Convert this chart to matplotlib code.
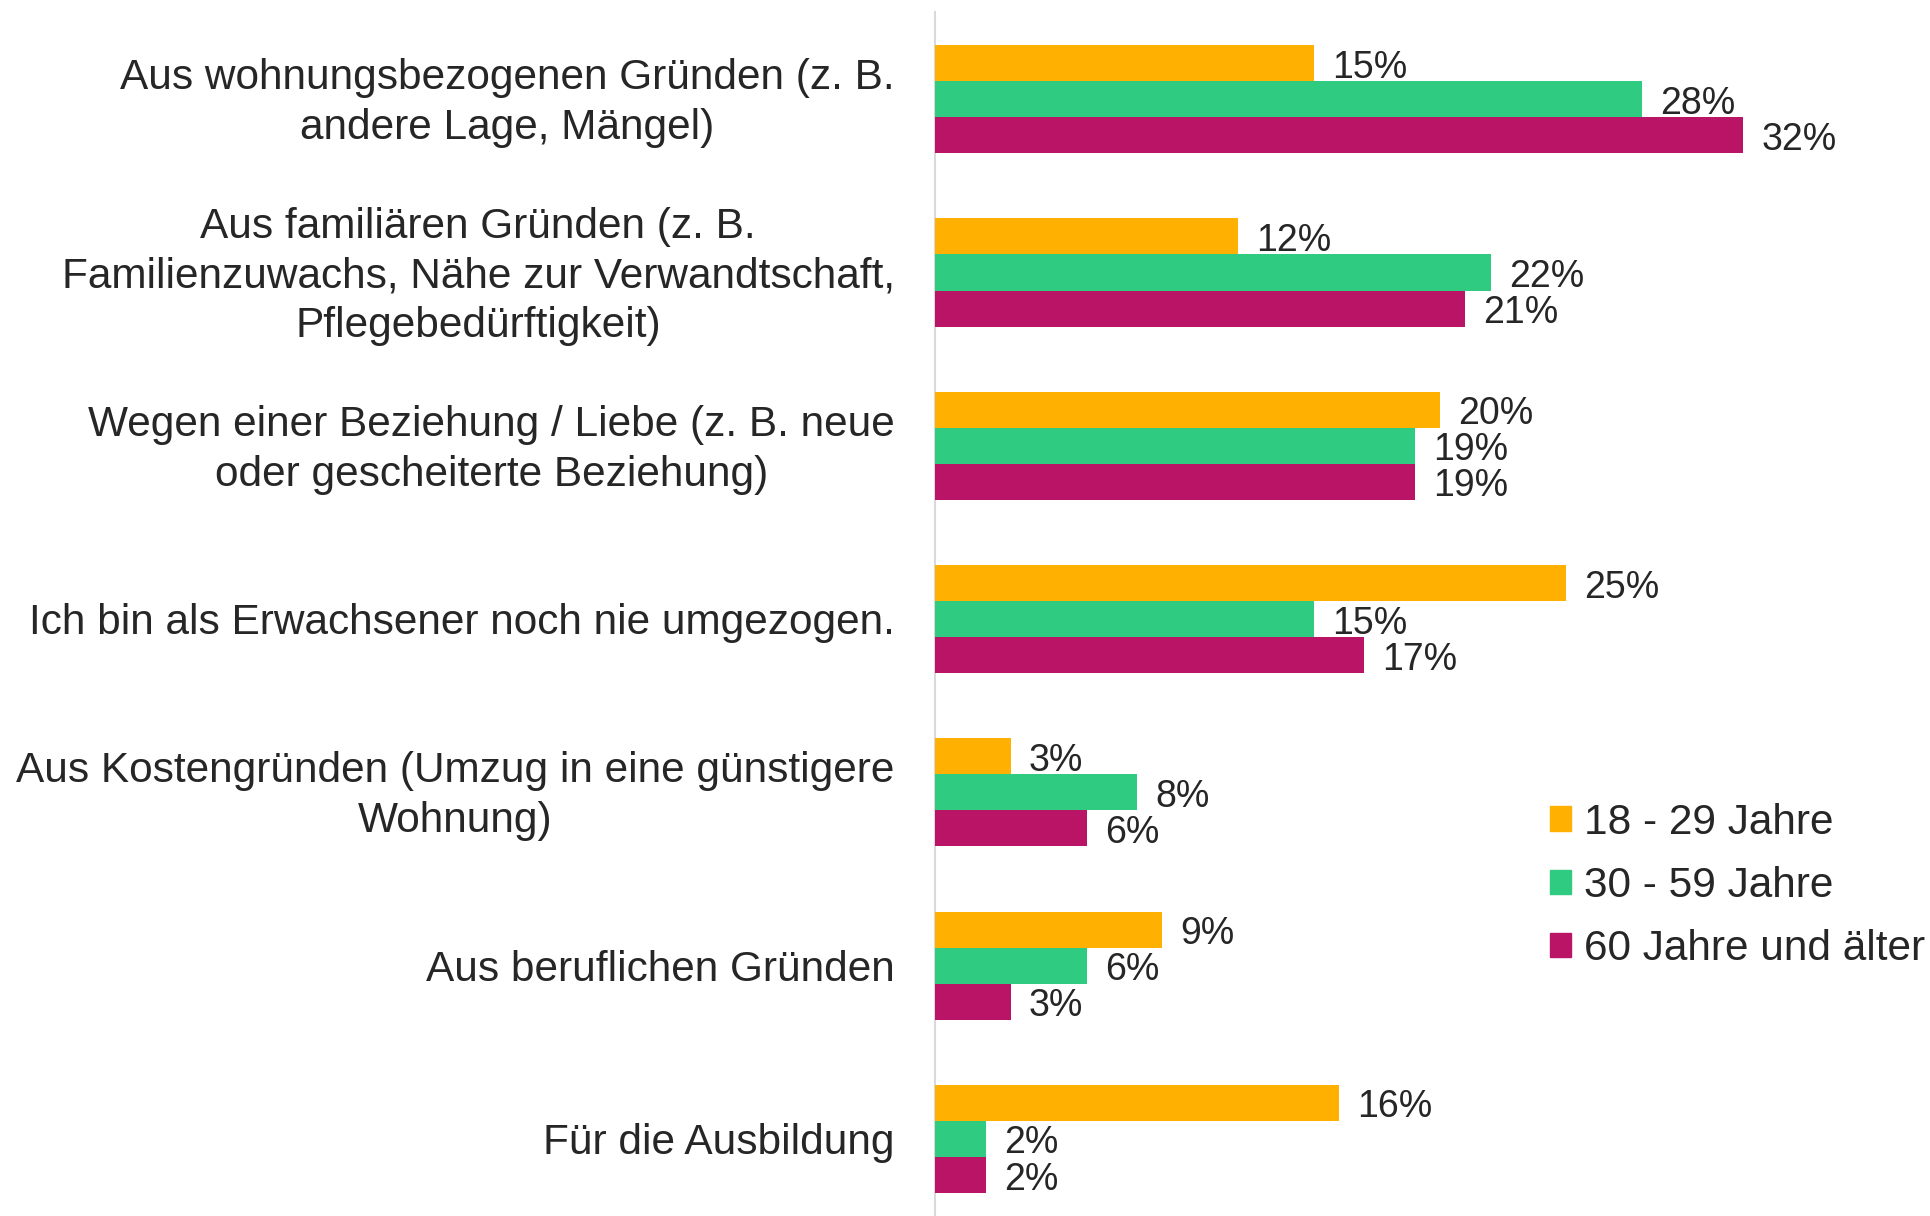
import matplotlib
matplotlib.use('Agg')
import matplotlib.pyplot as plt
import matplotlib.patches as mpatches
import numpy as np

plt.rcParams['font.family'] = ['Liberation Sans', 'DejaVu Sans']

color_young = '#ffb000'  # orange
color_mid = '#2ecb80'    # green
color_old = '#b91466'    # magenta
text_color = '#262626'

categories = [
    'Aus wohnungsbezogenen Gründen (z. B.\nandere Lage, Mängel)',
    'Aus familiären Gründen (z. B.\nFamilienzuwachs, Nähe zur Verwandtschaft,\nPflegebedürftigkeit)',
    'Wegen einer Beziehung / Liebe (z. B. neue\noder gescheiterte Beziehung)',
    'Ich bin als Erwachsener noch nie umgezogen.',
    'Aus Kostengründen (Umzug in eine günstigere\nWohnung)',
    'Aus beruflichen Gründen',
    'Für die Ausbildung',
]
series_labels = ['18 - 29 Jahre', '30 - 59 Jahre', '60 Jahre und älter']
age_18_29 = [15, 12, 20, 25, 3, 9, 16]
age_30_59 = [28, 22, 19, 15, 8, 6, 2]
age_60_plus = [32, 21, 19, 17, 6, 3, 2]

label_size = 30.5
value_size = 27

fig = plt.figure(figsize=(19.3, 12.16), dpi=100)
ax = fig.add_axes([0.4845, 0.0, 0.5155, 0.990])

y = np.arange(len(categories))
h = 0.208  # bar height

series = [age_18_29, age_30_59, age_60_plus]
colors = [color_young, color_mid, color_old]
for k, (vals, col) in enumerate(zip(series, colors)):
    bars = ax.barh(y + (k - 1) * h, vals, height=h, color=col, label=series_labels[k], zorder=3)
    for rect, v in zip(bars, vals):
        ax.annotate('{}%'.format(v),
                    xy=(rect.get_width(), rect.get_y() + rect.get_height() / 2),
                    xytext=(13, -3.2), textcoords='offset points',
                    ha='left', va='center', fontsize=value_size, color=text_color)

ax.set_xlim(0, 39.4)
ax.set_ylim(6.444, -0.502)

# category labels, centred lines, right edge near the axis
ax.set_yticks([])
ax.set_xticks([])
for yi, cat in zip(y, categories):
    ax.annotate(cat, xy=(0, yi), xycoords=('axes fraction', 'data'),
                xytext=(-29, -2.9), textcoords='offset points',
                ha='right', va='center', multialignment='center',
                fontsize=label_size, color=text_color, linespacing=1.32,
                annotation_clip=False)

for s in ['top', 'right', 'bottom']:
    ax.spines[s].set_visible(False)
ax.spines['left'].set_color('#d9d9d9')
ax.spines['left'].set_linewidth(1.5)

handles = [mpatches.Patch(color=c, label=l) for c, l in zip(colors, series_labels)]
fig.legend(handles=handles, loc='upper left', bbox_to_anchor=(0.803, 0.340),
           frameon=False, fontsize=label_size, labelcolor=text_color,
           handlelength=0.5, handleheight=0.5, handletextpad=0.3,
           labelspacing=0.55, borderpad=0, borderaxespad=0)

plt.savefig('out.png', dpi=100)
